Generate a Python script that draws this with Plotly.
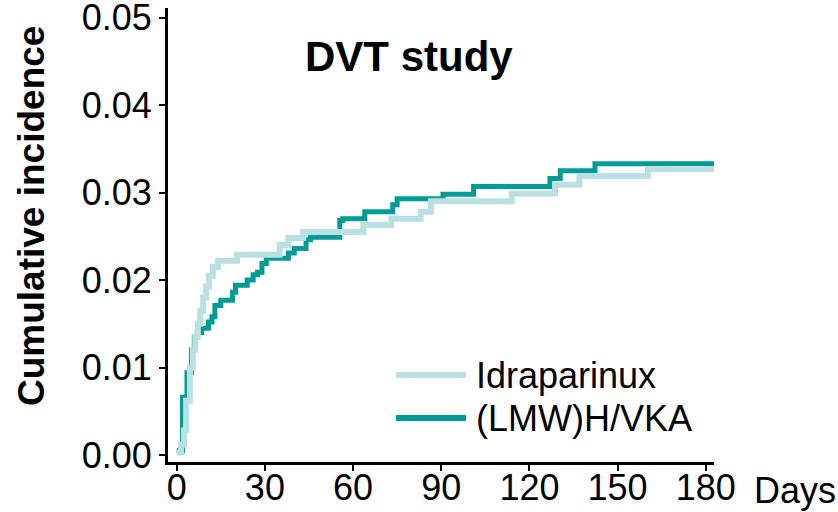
import plotly.graph_objects as go

# Idraparinux (light) step curve
idra_days = [0, 1.5, 2.5, 3.2, 4.5, 5.5, 6.3, 7.2, 8.0, 9.0, 10.0, 11.0, 12.3, 14.0,
             20.5, 35, 38, 43, 63.5, 73, 83, 86.5, 114, 128.7, 137, 160.3, 183]
idra_vals = [0.0003, 0.0012, 0.0028, 0.0062, 0.010, 0.012, 0.0135, 0.015, 0.0165, 0.018,
             0.0193, 0.0205, 0.0215, 0.0222, 0.0229, 0.024, 0.0248, 0.0255, 0.0263, 0.027,
             0.0278, 0.029, 0.0299, 0.0309, 0.0319, 0.0327, 0.0327]

# (LMW)H/VKA (dark) step curve
lmw_days = [0, 2, 3.5, 5, 6, 7, 8.5, 10.8, 12, 13, 15, 19, 20, 24, 26, 27.5, 29, 30.5,
            38, 40, 44, 45.5, 55.5, 56.5, 64, 73.5, 75, 90.6, 101, 127, 130.5, 142.3, 183]
lmw_vals = [0.0005, 0.0066, 0.0094, 0.012, 0.0135, 0.014, 0.0145, 0.0152, 0.0158, 0.0171,
            0.0177, 0.0186, 0.0194, 0.020, 0.0206, 0.0209, 0.0219, 0.0225, 0.0231, 0.0236,
            0.0246, 0.0249, 0.0268, 0.027, 0.0278, 0.0286, 0.0293, 0.0298, 0.0307, 0.0316,
            0.0325, 0.0333, 0.0333]

x_ticks = [0, 30, 60, 90, 120, 150, 180]
y_ticks = [0.00, 0.01, 0.02, 0.03, 0.04, 0.05]
y_tick_text = ["0.00", "0.01", "0.02", "0.03", "0.04", "0.05"]

series_names = ["Idraparinux", "(LMW)H/VKA"]
LIGHT = "#bbe0e3"
DARK = "#009a97"
FONT = "Liberation Sans, Arial, sans-serif"

fig = go.Figure()
fig.add_trace(go.Scatter(x=lmw_days, y=lmw_vals, mode="lines", line_shape="hv",
                         line=dict(color=DARK, width=5), name=series_names[1], showlegend=False))
fig.add_trace(go.Scatter(x=idra_days, y=idra_vals, mode="lines", line_shape="hv",
                         line=dict(color=LIGHT, width=6), name=series_names[0], showlegend=False))

L, R, T, B = 168, 124, 8, 50
W, H = 838, 512
pw, ph = W - L - R, H - T - B

def px(x):
    return (x - L) / pw

def py(y):
    return (H - B - y) / ph

# legend drawn manually (line samples + labels)
for name, col, wid, yy in [(series_names[0], LIGHT, 6, 375), (series_names[1], DARK, 6, 418)]:
    fig.add_shape(type="line", xref="paper", yref="paper", x0=px(396), x1=px(466),
                  y0=py(yy), y1=py(yy), line=dict(color=col, width=wid))
    fig.add_annotation(xref="paper", yref="paper", x=px(474), y=py(yy), text=name,
                       showarrow=False, xanchor="left", yanchor="middle",
                       font=dict(size=36, color="black", family=FONT))

fig.add_annotation(xref="paper", yref="paper", x=px(408.5), y=py(57), text="<b>DVT study</b>",
                   showarrow=False, xanchor="center", yanchor="middle",
                   font=dict(size=42, color="black", family=FONT))
fig.add_annotation(xref="paper", yref="paper", x=px(752), y=py(490), text="Days",
                   showarrow=False, xanchor="left", yanchor="middle",
                   font=dict(size=36, color="black", family=FONT))
fig.add_annotation(xref="paper", yref="paper", x=px(31), y=py(216), text="<b>Cumulative incidence</b>",
                   showarrow=False, textangle=-90, xanchor="center", yanchor="middle",
                   font=dict(size=37, color="black", family=FONT))

fig.update_layout(
    width=W, height=H, margin=dict(l=L, r=R, t=T, b=B, autoexpand=False),
    paper_bgcolor="white", plot_bgcolor="white",
    font=dict(family=FONT, size=36, color="black"),
    xaxis=dict(range=[-2.96, 182.8], tickvals=x_ticks, ticks="outside", ticklen=6, tickwidth=2,
               tickcolor="black", showline=True, linewidth=3, linecolor="black", showgrid=False,
               zeroline=False, tickfont=dict(size=36), automargin=False,
               ticklabelstandoff=-14, ticklabeloverflow="allow"),
    yaxis=dict(range=[-0.0008, 0.05109], tickvals=y_ticks, ticktext=y_tick_text, ticks="outside",
               ticklen=6, tickwidth=2, tickcolor="black", showline=True, linewidth=3,
               linecolor="black", showgrid=False, zeroline=False, tickfont=dict(size=36),
               automargin=False, ticklabeloverflow="allow"),
    showlegend=False,
)

fig.write_html("out.html")
